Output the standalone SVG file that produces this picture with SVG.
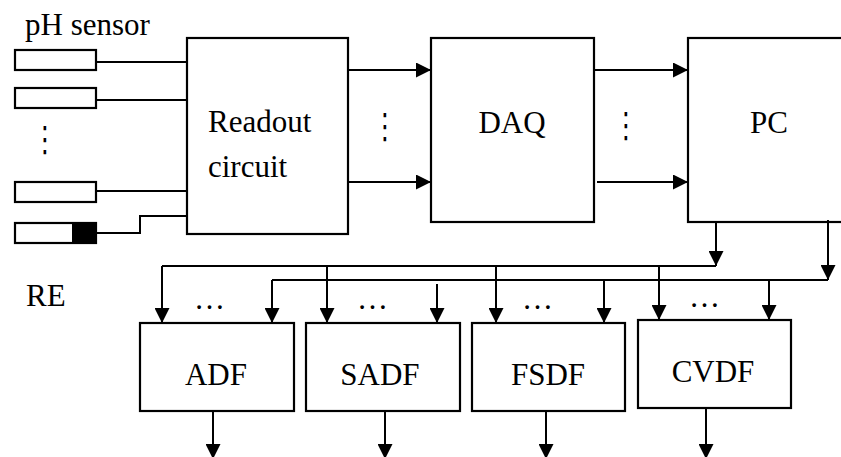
<svg xmlns="http://www.w3.org/2000/svg" width="841" height="457" viewBox="0 0 841 457">
<style>
.box{fill:#fff;stroke:#000;stroke-width:2.2}
.ln{fill:none;stroke:#000;stroke-width:2}
.ar{fill:none;stroke:#000;stroke-width:2;marker-end:url(#ah)}
.t{font-family:"Liberation Serif","Times New Roman",serif;font-size:31px;fill:#000}
.c{text-anchor:middle}
.vd{font-family:"DejaVu Sans",sans-serif;font-size:25px;fill:#000;text-anchor:middle}
</style>
<defs>
<marker id="ah" markerUnits="userSpaceOnUse" markerWidth="15" markerHeight="15" refX="15" refY="7.5" orient="auto">
<path d="M0,0 L15,7.5 L0,15 z" fill="#000"/>
</marker>
</defs>
<rect width="841" height="457" fill="#fff"/>
<text class="t" x="25" y="35">pH sensor</text>
<text class="t" x="26" y="306">RE</text>
<g id="sensor1"><rect class="box" x="15" y="50" width="81" height="20"/></g>
<g id="sensor2"><rect class="box" x="15" y="88" width="81" height="20"/></g>
<g id="sensor3"><rect class="box" x="15" y="182" width="81" height="20"/></g>
<g id="re"><rect class="box" x="15" y="223" width="81" height="20"/><rect x="73" y="223" width="23" height="20" fill="#000" stroke="#000" stroke-width="2"/></g>
<text class="vd" transform="matrix(1,0,0,1.4,45,151)">⋮</text>
<g id="readout"><rect class="box" x="187" y="38" width="161" height="196"/><text class="t" x="208" y="132">Readout</text><text class="t" x="208" y="177">circuit</text></g>
<g id="daq"><rect class="box" x="431" y="38" width="163" height="184"/><text class="t c" x="512" y="133">DAQ</text></g>
<g id="pc"><rect class="box" x="688" y="38" width="170" height="184"/><text class="t c" x="769" y="133">PC</text></g>
<g id="adf"><rect class="box" x="140" y="323" width="154" height="88"/><text class="t c" x="216" y="385">ADF</text></g>
<g id="sadf"><rect class="box" x="306" y="323" width="154" height="88"/><text class="t c" x="380" y="385">SADF</text></g>
<g id="fsdf"><rect class="box" x="472" y="323" width="153" height="88"/><text class="t c" x="548" y="385">FSDF</text></g>
<g id="cvdf"><rect class="box" x="638" y="320" width="153" height="88"/><text class="t c" x="713" y="382">CVDF</text></g>
<text class="vd" transform="matrix(1,0,0,1.4,385,138)">⋮</text>
<text class="vd" transform="matrix(1,0,0,1.4,626,136.5)">⋮</text>
<text class="t c" x="209.5" y="309">…</text>
<text class="t c" x="372.5" y="309">…</text>
<text class="t c" x="537.5" y="309">…</text>
<text class="t c" x="704.5" y="307">…</text>
<g id="connectors">
<path class="ln" d="M96,62 H187"/>
<path class="ln" d="M96,100 H187"/>
<path class="ln" d="M96,191 H187"/>
<path class="ln" d="M96,233 H140 V216 H187"/>
<path class="ar" d="M348,70 H431"/>
<path class="ar" d="M348,182 H431"/>
<path class="ar" d="M594,70 H688"/>
<path class="ar" d="M597,182 H688"/>
<path class="ar" d="M716,222 V266"/>
<path class="ar" d="M828,220 V280"/>
<path class="ln" d="M162,266 H716"/>
<path class="ln" d="M272,280 H828"/>
<path class="ar" d="M162,266 V323"/>
<path class="ar" d="M272,280 V323"/>
<path class="ar" d="M327,266 V323"/>
<path class="ar" d="M437,284 V323"/>
<path class="ar" d="M496,266 V323"/>
<path class="ar" d="M604,280 V323"/>
<path class="ar" d="M659,266 V320"/>
<path class="ar" d="M769,280 V320"/>
<path class="ar" d="M213,411 V459"/>
<path class="ar" d="M385,411 V459"/>
<path class="ar" d="M546,411 V459"/>
<path class="ar" d="M706,408 V459"/>
</g>
</svg>
